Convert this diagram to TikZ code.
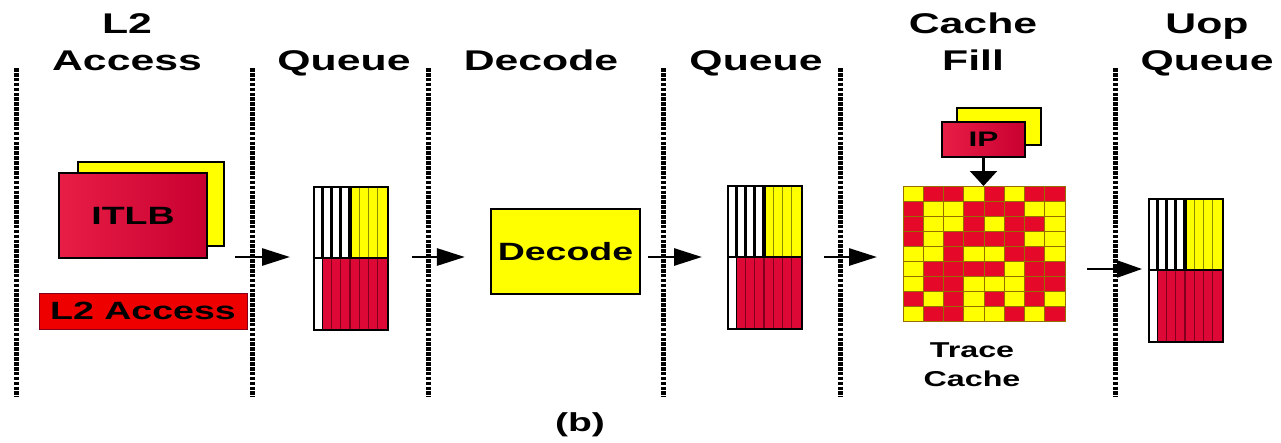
\documentclass[tikz,border=0pt]{standalone}
\usepackage{fontspec}
\newfontfamily\wf{Liberation Sans}[FakeStretch=1.5]
\usetikzlibrary{arrows.meta}
\definecolor{cY}{RGB}{255,255,0}
\definecolor{cR}{RGB}{230,8,40}
\definecolor{cQ}{RGB}{222,8,55}
\definecolor{crimL}{RGB}{232,30,70}
\definecolor{crimD}{RGB}{200,0,48}
\definecolor{lred}{RGB}{238,0,0}
\definecolor{gline}{RGB}{150,110,0}
\definecolor{ysep}{RGB}{140,140,0}
\definecolor{rsep}{RGB}{130,0,30}
\newcommand\drawqueue[2]{%
  \fill[white] (#1,#2) rectangle ++(74,143);
  \fill[cY] ({#1+37},#2) rectangle ({#1+74},{#2+72});
  \fill[cQ] ({#1+9.25},{#2+72}) rectangle ({#1+74},{#2+143});
  \foreach \i in {5,6,7} \draw[ysep,line width=1.1pt] ({#1+\i*9.25},#2) -- ({#1+\i*9.25},{#2+72});
  \foreach \i in {2,...,7} \draw[rsep,line width=1.1pt] ({#1+\i*9.25},{#2+72}) -- ({#1+\i*9.25},{#2+143});
  \foreach \i in {1,...,4} \draw[black,line width=3.2pt] ({#1+\i*9.25},#2) -- ({#1+\i*9.25},{#2+72});
  \draw[black,line width=1.2pt] ({#1+9.25},{#2+72}) -- ({#1+9.25},{#2+143});
  \draw[black,line width=1.6pt] (#1,{#2+72}) -- ({#1+74},{#2+72});
}
\begin{document}
\begin{tikzpicture}[x=1pt,y=-1pt,
  title/.style={font={\wf\bfseries\fontsize{28.5}{37}\selectfont}, align=center, anchor=south, inner sep=0pt, text depth=0pt},
  sep/.style={line width=5pt, dash pattern=on 3.6pt off 1.3pt},
  lbl/.style={font={\wf\bfseries\fontsize{25}{30}\selectfont}, inner sep=0pt},
  redbox/.style={draw=black, line width=1.6pt, left color=crimL, right color=crimD},
  yelbox/.style={draw=black, line width=1.6pt, fill=cY},
  qbox/.style={draw=black, line width=2.2pt, minimum width=74pt, minimum height=143pt, anchor=north west, inner sep=0pt},
  arr/.style={-{Triangle[length=28pt,width=17pt]}, line width=2.8pt},
  arrthin/.style={-{Triangle[length=25pt,width=17pt]}, line width=2.2pt},
  iparr/.style={-{Triangle[length=15pt,width=27pt]}, line width=2.2pt}
]
\useasboundingbox (0,0) rectangle (1281,442);
\fill[white] (0,0) rectangle (1281,442);

% separators
\foreach \x in {16,252,428,663,840,1115}
  \draw[sep] (\x,68) -- (\x,397);

% titles
\node[title] (t1) at (127,71) {L2\\Access};
\node[title] (t2) at (344,71) {Queue};
\node[title] (t3) at (541,71) {Decode};
\node[title] (t4) at (756,71) {Queue};
\node[title] (t5) at (973,71) {Cache\\Fill};
\node[title] (t6) at (1207,71) {Uop\\Queue};

% ITLB
\node[yelbox, minimum width=146pt, minimum height=84pt, inner sep=0pt] (itlbback) at (151,204) {};
\node[redbox, lbl, minimum width=148pt, minimum height=85pt] (itlb) at (133,215.5) {ITLB};
\node[lbl, draw=rsep, line width=0.8pt, fill=lred, minimum width=208pt, minimum height=36pt] (l2) at (143,311) {L2 Access};

% Decode
\node[lbl, draw=black, line width=2.2pt, fill=cY, minimum width=149pt, minimum height=85pt] (dec) at (565.5,251.5) {Decode};

% queues
\drawqueue{313}{186}
\node[qbox] (q1) at (313,186) {};
\drawqueue{727}{185}
\node[qbox] (q2) at (727,185) {};
\drawqueue{1148}{198}
\node[qbox] (q3) at (1148,198) {};

% trace cache grid
\foreach \row [count=\ri from 0] in {
  {Y,R,R,Y,R,Y,R,R},
  {R,Y,Y,R,R,R,Y,Y},
  {R,Y,Y,R,Y,R,R,Y},
  {R,Y,R,R,R,R,Y,Y},
  {Y,Y,R,Y,Y,R,R,Y},
  {Y,R,R,R,R,Y,R,R},
  {Y,R,R,Y,Y,Y,R,R},
  {R,Y,R,Y,R,Y,R,Y},
  {Y,R,R,Y,Y,R,Y,R}} {
  \foreach \cell [count=\ci from 0] in \row {
    \filldraw[fill=c\cell, draw=gline, line width=0.8pt]
      ({903+\ci*20.25},{186+\ri*15}) rectangle ++(20.25,15);
  }
}
\node[draw=none, minimum width=162pt, minimum height=135pt, anchor=north west, inner sep=0pt] (tc) at (903,186) {};
\node[font={\wf\bfseries\fontsize{21.5}{29}\selectfont}, align=center, anchor=south, inner sep=0pt, text depth=0pt] (tclbl) at (972,387) {Trace\\Cache};

% IP
\node[yelbox, minimum width=84pt, minimum height=37pt, inner sep=0pt] (ipback) at (999,126.5) {};
\node[redbox, font={\wf\bfseries\fontsize{21}{25}\selectfont}, inner sep=0pt, minimum width=83pt, minimum height=35pt] (ip) at (983.5,139.5) {IP};

% caption
\node[font={\wf\bfseries\fontsize{26}{30}\selectfont}, anchor=base, inner sep=0pt] (cap) at (580,431) {(b)};

% arrows
\coordinate (a1) at (235,257);
\coordinate (a2) at (412,257);
\coordinate (a3) at (648,257);
\coordinate (a4) at (824,257);
\coordinate (a5) at (1087,269);
\draw[arr, shorten >=23pt] (a1) -- (a1 -| q1.west);
\draw[arr, shorten >=25pt] (a2) -- (a2 -| dec.west);
\draw[arr, shorten >=25pt] (a3) -- (a3 -| q2.west);
\draw[arr, shorten >=26pt] (a4) -- (a4 -| tc.west);
\draw[arrthin, shorten >=6pt] (a5) -- (a5 -| q3.west);
\draw[iparr] (ip.south) -- (ip.south |- tc.north);
\end{tikzpicture}
\end{document}
